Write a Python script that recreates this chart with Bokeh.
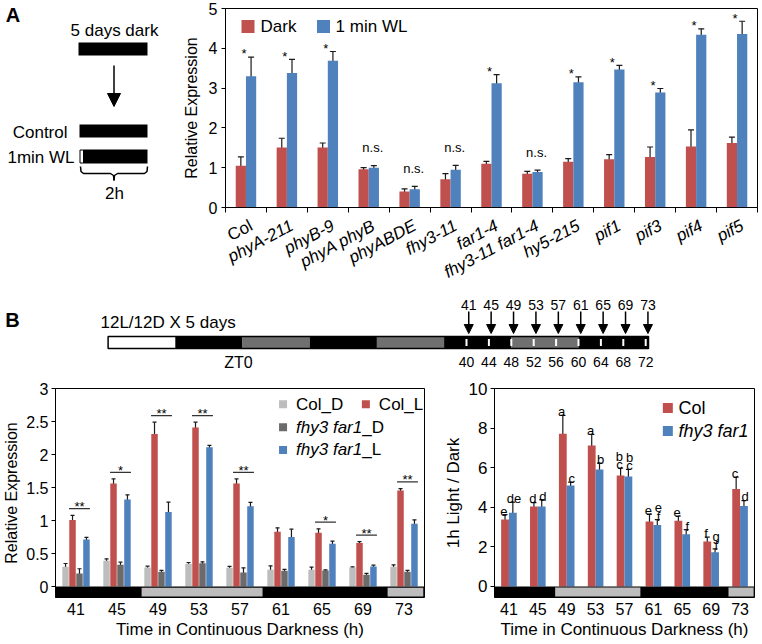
import numpy as np
from bokeh.plotting import figure
from bokeh.models import (Range1d, FixedTicker, ColumnDataSource, Whisker, TeeHead,
                          Arrow, NormalHead, CustomJSTickFormatter)
from bokeh.layouts import column, row
from bokeh.core.properties import value
from bokeh.embed import file_html
from bokeh.resources import INLINE

FONT = "Liberation Sans"
RED = "#C0504D"
BLUE = "#4F81BD"
LGRAY = "#BDBDBD"
DGRAY = "#6B6B6B"
TLGRAY = "#707070"
ERRC = "#1a1a1a"

# ---------------- Panel A data ----------------
genotypes = ["Col", "phyA-211", "phyB-9", "phyA phyB", "phyABDE", "fhy3-11", "far1-4",
             "fhy3-11 far1-4", "hy5-215", "pif1", "pif3", "pif4", "pif5"]
dark_mean = [1.05, 1.51, 1.51, 0.96, 0.40, 0.71, 1.10, 0.85, 1.15, 1.21, 1.27, 1.53, 1.62]
dark_err = [0.22, 0.23, 0.11, 0.04, 0.07, 0.14, 0.06, 0.06, 0.08, 0.12, 0.25, 0.42, 0.15]
wl_mean = [3.30, 3.38, 3.69, 1.00, 0.46, 0.95, 3.12, 0.89, 3.15, 3.47, 2.89, 4.34, 4.36]
wl_err = [0.48, 0.34, 0.23, 0.05, 0.07, 0.11, 0.22, 0.05, 0.13, 0.10, 0.10, 0.15, 0.32]
a_sig = ["*", "*", "*", "n.s.", "n.s.", "n.s.", "*", "n.s.", "*", "*", "*", "*", "*"]

# ---------------- Panel B timeline data ----------------
tl_start = [-24, -12, 0, 12, 24, 36, 48, 60]
tl_end = [-12, 0, 12, 24, 36, 48, 60, 72.5]
tl_phase = ["light", "dark", "subjective day", "dark", "subjective day", "dark",
            "subjective day", "dark"]
tick_hours = [40, 44, 48, 52, 56, 60, 64, 68, 72]
times = [41, 45, 49, 53, 57, 61, 65, 69, 73]

# ---------------- Panel B left data ----------------
colD = [0.30, 0.39, 0.29, 0.345, 0.285, 0.255, 0.255, 0.29, 0.30]
colD_err = [0.05, 0.03, 0.02, 0.02, 0.02, 0.06, 0.04, 0.01, 0.03]
colL = [1.01, 1.56, 2.31, 2.41, 1.56, 0.83, 0.815, 0.66, 1.455]
colL_err = [0.07, 0.07, 0.18, 0.08, 0.07, 0.06, 0.06, 0.02, 0.03]
fD = [0.20, 0.33, 0.225, 0.355, 0.215, 0.24, 0.245, 0.18, 0.225]
fD_err = [0.07, 0.04, 0.02, 0.02, 0.07, 0.02, 0.01, 0.02, 0.02]
fL = [0.715, 1.32, 1.13, 2.11, 1.215, 0.75, 0.65, 0.305, 0.95]
fL_err = [0.03, 0.07, 0.15, 0.03, 0.06, 0.12, 0.04, 0.02, 0.06]
b_sig = ["**", "*", "**", "**", "**", "", "*", "**", "**"]
subjective_day_h = [(47.4, 59.2), (71.4, 75.0)]

# ---------------- Panel B right data ----------------
col_ratio = [3.38, 4.04, 7.71, 7.12, 5.60, 3.28, 3.32, 2.27, 4.93]
col_ratio_err = [0.25, 0.20, 0.93, 0.57, 0.38, 0.38, 0.24, 0.22, 0.59]
f_ratio = [3.72, 4.04, 5.10, 5.91, 5.55, 3.11, 2.64, 1.73, 4.06]
f_ratio_err = [0.54, 0.35, 0.17, 0.32, 0.37, 0.27, 0.23, 0.17, 0.28]
col_letters = ["e", "d", "a", "a", "b c", "e", "e", "f", "c"]
f_letters = ["de", "d", "c", "b", "b c", "e f", "f", "g f", "d"]


def base_fig(w, h, xr, yr, **kw):
    p = figure(width=w, height=h, x_range=xr, y_range=yr, output_backend="svg",
               toolbar_location=None, **kw)
    p.xgrid.visible = False
    p.ygrid.visible = False
    p.background_fill_color = "white"
    p.border_fill_color = "white"
    return p


def style_axes(p, tick_size, label_size):
    for ax in p.axis:
        ax.axis_line_color = "black"
        ax.axis_line_width = 1
        ax.major_tick_line_color = "black"
        ax.minor_tick_line_color = None
        ax.major_tick_in = 0
        ax.major_tick_out = 4
        ax.major_label_text_font = FONT
        ax.major_label_text_font_size = tick_size
        ax.major_label_text_color = "black"
        ax.axis_label_text_font = FONT
        ax.axis_label_text_font_size = label_size
        ax.axis_label_text_font_style = "normal"
        ax.axis_label_text_color = "black"


def add_err(p, x, m, e, cap):
    m = np.asarray(m, dtype=float)
    e = np.asarray(e, dtype=float)
    src = ColumnDataSource(dict(x=np.asarray(x, dtype=float), lo=m - e, hi=m + e))
    w = Whisker(source=src, base="x", lower="lo", upper="hi", line_color=ERRC, line_width=1.2,
                upper_head=TeeHead(size=cap, line_color=ERRC, line_width=1.2),
                lower_head=TeeHead(size=cap, line_color=ERRC, line_width=1.2))
    p.add_layout(w)


def txt(p, x, y, t, size, align="left", baseline="middle", style="normal", **kw):
    p.text(x=x, y=y, text=t, text_font=value(FONT), text_font_size=size,
           text_align=align, text_baseline=baseline, text_font_style=style,
           text_color="black", **kw)


# ================= Diagram (panel A, left) =================
pD = base_fig(168, 290, Range1d(0, 168), Range1d(290, 0), min_border=0,
              x_axis_location=None, y_axis_location=None)
pD.outline_line_color = None
txt(pD, [12.5], [14], ["A"], "20px", align="center", style="bold")
txt(pD, [114], [30], ["5 days dark"], "17px", align="center")
pD.quad(left=[78], right=[147], top=[42], bottom=[55], fill_color="black", line_color=None)
pD.add_layout(Arrow(end=NormalHead(size=13, fill_color="black", line_color="black"),
                    x_start=113.5, y_start=65, x_end=113.5, y_end=106,
                    line_color="black", line_width=1.5))
txt(pD, [67], [132], ["Control"], "17px", align="right")
pD.quad(left=[79], right=[147], top=[124], bottom=[137], fill_color="black", line_color=None)
txt(pD, [74], [157], ["1min WL"], "17px", align="right")
pD.quad(left=[83], right=[147], top=[149], bottom=[163], fill_color="black", line_color=None)
pD.quad(left=[79.5], right=[83], top=[149.5], bottom=[162.5], fill_color="white",
        line_color="black", line_width=1)
pD.line(x=[80, 80.5, 83, 110, 113, 113.5], y=[166, 171, 173, 173, 175, 180],
        line_color="black", line_width=1.5)
pD.line(x=[147, 146.5, 144, 117, 114, 113.5], y=[166, 171, 173, 173, 175, 180],
        line_color="black", line_width=1.5)
txt(pD, [114], [193], ["2h"], "17px", align="center")

# ================= Chart A =================
nA = len(genotypes)
xa = np.arange(nA)
A_LEFT, A_RIGHT, A_W = 57, 5, 594
xrA = Range1d(-0.5, nA - 0.5)
pA = base_fig(A_W, 215, xrA, Range1d(0, 5), min_border_left=A_LEFT,
              min_border_right=A_RIGHT, min_border_top=8, min_border_bottom=8)
pA.outline_line_color = "black"
pA.outline_line_width = 1
pA.vbar(x=xa - 0.125, top=dark_mean, width=0.25, fill_color=RED, line_color=None)
pA.vbar(x=xa + 0.125, top=wl_mean, width=0.25, fill_color=BLUE, line_color=None)
add_err(pA, xa - 0.125, dark_mean, dark_err, 6)
add_err(pA, xa + 0.125, wl_mean, wl_err, 6)
style_axes(pA, "16px", "16px")
pA.yaxis.ticker = FixedTicker(ticks=[0, 1, 2, 3, 4, 5])
pA.yaxis.axis_label = "Relative Expression"
pA.yaxis.major_label_standoff = 4
pA.yaxis.axis_label_standoff = 6
pA.xaxis.ticker = FixedTicker(ticks=list(np.arange(-0.5, nA, 1.0)))
pA.xaxis.major_tick_out = 5
pA.xaxis.major_label_standoff = 0
pA.xaxis.major_label_text_font_size = "1px"
pA.xaxis.formatter = CustomJSTickFormatter(code="return ''")

tops = np.maximum(np.array(dark_mean) + np.array(dark_err), np.array(wl_mean) + np.array(wl_err))
sig_y = [t + (0.45 if s == "n.s." else 0.08) for t, s in zip(tops, a_sig)]
sig_x = [i + (0.1 if s == "n.s." else -0.05) for i, s in zip(xa, a_sig)]
txt(pA, sig_x, sig_y, a_sig, "13px", align="center")
# legend
pA.scatter(x=[0.05, 1.895], y=[4.55, 4.55], marker="square", size=13,
           fill_color=[RED, BLUE], line_color=None)
txt(pA, [0.355, 2.19], [4.55, 4.55], ["Dark", "1 min WL"], "17px")

# category label strip under chart A (shares the x range)
pS = base_fig(A_W, 75, xrA, Range1d(290, 215), min_border_left=A_LEFT,
              min_border_right=A_RIGHT, min_border_top=0, min_border_bottom=0,
              x_axis_location=None, y_axis_location=None)
pS.outline_line_color = None
pS.text(x=xa + 0.02, y=[215.5] * nA, text=genotypes, angle=28 * np.pi / 180, text_align="right",
        text_baseline="top", text_font=value(FONT), text_font_size="17px",
        text_font_style=["normal" if g == "Col" else "italic" for g in genotypes],
        text_color="black")

# ================= Timeline (panel B top) =================
T0 = 242.0
PXH = 5.6


def tx(px):
    return (px - T0) / PXH


pT = base_fig(762, 85, Range1d(tx(0), tx(762)), Range1d(375, 290), min_border=0,
              x_axis_location=None, y_axis_location=None)
pT.outline_line_color = None
phase_color = {"light": "white", "dark": "black", "subjective day": TLGRAY}
pT.quad(left=tl_start, right=tl_end, top=336, bottom=348,
        fill_color=[phase_color[ph] for ph in tl_phase], line_color=None)
pT.quad(left=[tl_start[0]], right=[tl_end[-1]], top=[336], bottom=[348], fill_color=None,
        line_color="black", line_width=1.5)
pT.segment(x0=tick_hours, y0=338.5, x1=tick_hours, y1=345.5, line_color="white", line_width=2)
arrow_x = [t - 0.6 for t in times]
arr_src = ColumnDataSource(dict(x=arrow_x, y0=[311] * len(times), y1=[333] * len(times)))
pT.add_layout(Arrow(source=arr_src, x_start="x", y_start="y0", x_end="x", y_end="y1",
                    end=NormalHead(size=9, fill_color="black", line_color="black"),
                    line_color="black", line_width=1.5))
txt(pT, arrow_x, [304] * len(times), [str(t) for t in times], "14px", align="center")
txt(pT, tick_hours, [361] * len(tick_hours), [str(t) for t in tick_hours], "14px", align="center")
txt(pT, [tx(238)], [362], ["ZT0"], "16px", align="center")
txt(pT, [tx(100)], [322], ["12L/12D X 5 days"], "17px")
txt(pT, [tx(12)], [319], ["B"], "20px", align="center", style="bold")

# ================= Chart B left =================
nB = len(times)
xb = np.arange(nB)
wb = 0.17
pB1 = base_fig(440, 269, Range1d(-0.5, nB - 0.5), Range1d(-0.165, 3.0), min_border_left=53,
               min_border_right=16, min_border_top=11, min_border_bottom=47)
pB1.outline_line_color = "black"
series = [(colD, colD_err, LGRAY), (colL, colL_err, RED), (fD, fD_err, DGRAY), (fL, fL_err, BLUE)]
for k, (m, e, c) in enumerate(series):
    xx = xb + (k - 1.5) * wb
    pB1.vbar(x=xx, top=m, width=wb * 0.93, fill_color=c, line_color=None)
    add_err(pB1, xx, m, e, 4)


def day_bar(p, ymin, inset):
    p.quad(left=[-0.5], right=[nB - 0.5], top=[0], bottom=[ymin], fill_color="black", line_color=None)
    for a, b in subjective_day_h:
        l = (a - times[0]) / 4.0
        r = min((b - times[0]) / 4.0, nB - 0.5 - 0.03)
        p.quad(left=[l], right=[r], top=[-inset], bottom=[ymin + inset], fill_color=LGRAY,
               line_color=None)


day_bar(pB1, -0.165, 0.016)

for i, s in enumerate(b_sig):
    if not s:
        continue
    ly = max(colL[i] + colL_err[i], fL[i] + fL_err[i]) + 0.1
    pB1.segment(x0=[i - wb], y0=[ly], x1=[i + 2 * wb], y1=[ly], line_color="#333333", line_width=1.3)
    txt(pB1, [i + 0.5 * wb], [ly + 0.03], [s], "13px", align="center")

style_axes(pB1, "16px", "16px")
pB1.yaxis.ticker = FixedTicker(ticks=[0, 0.5, 1.0, 1.5, 2.0, 2.5, 3.0])
pB1.yaxis.major_label_overrides = {0: "0"}
pB1.yaxis.axis_label = "Relative Expression"
pB1.yaxis.major_label_standoff = 3
pB1.yaxis.axis_label_standoff = 3
pB1.xaxis.ticker = FixedTicker(ticks=list(xb))
pB1.xaxis.major_label_overrides = {int(i): str(t) for i, t in zip(xb, times)}
pB1.xaxis.axis_line_color = None
pB1.xaxis.major_tick_line_color = None
pB1.xaxis.major_tick_out = 0
pB1.xaxis.major_label_standoff = 5
pB1.xaxis.axis_label = "Time in Continuous Darkness (h)"
pB1.xaxis.axis_label_text_font_size = "17px"
pB1.xaxis.axis_label_standoff = 2
# legend (manual, mixed italic)
leg_rows = [(5.05, 2.76, LGRAY, "Col", "_D", "normal"), (7.07, 2.76, RED, "Col", "_L", "normal"),
            (5.05, 2.415, DGRAY, "fhy3 far1", "_D", "italic"), (5.05, 2.07, BLUE, "fhy3 far1", "_L", "italic")]
for x0, y0, c, name, suf, st in leg_rows:
    pB1.scatter(x=[x0], y=[y0], marker="square", size=8, fill_color=c, line_color=None)
    txt(pB1, [x0], [y0], [name], "17px", style=st, x_offset=13)
    off = 13 + (25.5 if name == "Col" else 66.2)
    txt(pB1, [x0], [y0], [suf], "17px", x_offset=off)

# ================= Chart B right =================
wr = 0.27
pB2 = base_fig(322, 269, Range1d(-0.5, nB - 0.5), Range1d(-0.556, 10), min_border_left=44,
               min_border_right=8, min_border_top=13, min_border_bottom=47)
pB2.outline_line_color = "black"
pB2.vbar(x=xb - wr / 2, top=col_ratio, width=wr, fill_color=RED, line_color=None)
pB2.vbar(x=xb + wr / 2, top=f_ratio, width=wr, fill_color=BLUE, line_color=None)
add_err(pB2, xb - wr / 2, col_ratio, col_ratio_err, 5)
add_err(pB2, xb + wr / 2, f_ratio, f_ratio_err, 5)
day_bar(pB2, -0.556, 0.05)

lx, ly_, lt = [], [], []
for i in range(nB):
    for xo, m, e, lab in ((-wr / 2 - 0.04, col_ratio[i], col_ratio_err[i], col_letters[i]),
                          (wr / 2 + 0.04, f_ratio[i], f_ratio_err[i], f_letters[i])):
        toks = lab.split(" ")
        base = m + e + 0.18
        for j, tk in enumerate(reversed(toks)):
            lx.append(i + xo)
            ly_.append(base + j * 0.42)
            lt.append(tk)
txt(pB2, lx, ly_, lt, "13px", align="center", baseline="alphabetic")

style_axes(pB2, "17px", "17px")
pB2.yaxis.ticker = FixedTicker(ticks=[0, 2, 4, 6, 8, 10])
pB2.yaxis.axis_label = "1h Light / Dark"
pB2.yaxis.major_label_standoff = 3
pB2.yaxis.axis_label_standoff = 3
pB2.xaxis.ticker = FixedTicker(ticks=list(xb))
pB2.xaxis.major_label_overrides = {int(i): str(t) for i, t in zip(xb, times)}
pB2.xaxis.axis_line_color = None
pB2.xaxis.major_tick_line_color = None
pB2.xaxis.major_tick_out = 0
pB2.xaxis.major_label_standoff = 5
pB2.xaxis.major_label_text_font_size = "16px"
pB2.xaxis.axis_label = "Time in Continuous Darkness (h)"
pB2.xaxis.axis_label_standoff = 2
pB2.scatter(x=[5.5, 5.5], y=[9.02, 7.85], marker="square", size=10,
            fill_color=[RED, BLUE], line_color=None)
txt(pB2, [5.87], [9.02], ["Col"], "18px")
txt(pB2, [5.87], [7.85], ["fhy3 far1"], "18px", style="italic")

layout = column(row(pD, column(pA, pS)), pT, row(pB1, pB2))
open("out.html", "w").write(file_html(layout, INLINE))
